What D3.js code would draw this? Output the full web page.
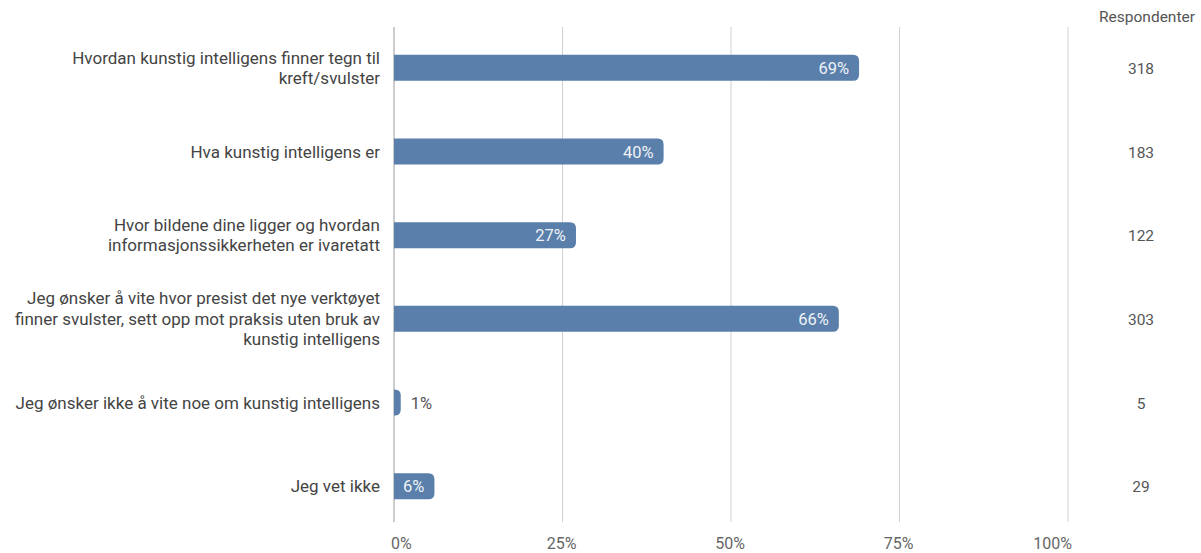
<!DOCTYPE html>
<html>
<head>
<meta charset="utf-8">
<script src="https://cdn.jsdelivr.net/npm/d3@7"></script>
<style>
  body { margin: 0; background: #fff; }
  text { font-family: Roboto, "Noto Sans", sans-serif; }
</style>
</head>
<body>
<div id="viz-container"></div>
<script>
// data
let categories = [
  "Hvordan kunstig intelligens finner tegn til\nkreft/svulster",
  "Hva kunstig intelligens er",
  "Hvor bildene dine ligger og hvordan\ninformasjonssikkerheten er ivaretatt",
  "Jeg ønsker å vite hvor presist det nye verktøyet\nfinner svulster, sett opp mot praksis uten bruk av\nkunstig intelligens",
  "Jeg ønsker ikke å vite noe om kunstig intelligens",
  "Jeg vet ikke"
];
let percents = [69, 40, 27, 66, 1, 6];
let respondents = [318, 183, 122, 303, 5, 29];
let ticks = [0, 25, 50, 75, 100];

//create canvas
let viz = d3.select("#viz-container")
    .append("svg")
    .attr("width", 1201)
    .attr("height", 553)
;

let x = d3.scaleLinear().domain([0, 100]).range([394, 1068]);
let y = d3.scalePoint().domain(categories).range([26, 528]).padding(0.5);
let barH = 26;

// gridlines
viz.selectAll(".grid").data(ticks).enter()
  .append("line")
    .attr("x1", d => x(d))
    .attr("x2", d => x(d))
    .attr("y1", 27)
    .attr("y2", 522)
    .attr("stroke", d => d == 0 ? "#9a9a9a" : "#d0d0d0")
    .attr("stroke-width", 1)
;

// tick labels (end ones kept inside the plot)
function tickAnchor(d){
  if(d == ticks[0]){
    return "start";
  }else if(d == ticks[ticks.length-1]){
    return "end";
  }
  return "middle";
}
function tickX(d){
  if(d == ticks[0]){
    return x(d) - 3;
  }else if(d == ticks[ticks.length-1]){
    return x(d) + 4;
  }
  return x(d) - 1;
}

viz.selectAll(".tick").data(ticks).enter()
  .append("text")
    .attr("x", tickX)
    .attr("y", 549)
    .attr("text-anchor", tickAnchor)
    .attr("fill", "#666")
    .style("font-size", "16px")
    .text(d => d + "%")
;

// bar with rounded right end
function barPath(i){
  let x0 = x(0), x1 = x(percents[i]);
  let yc = y(categories[i]);
  let y0 = yc - barH/2, y1 = yc + barH/2;
  let r = Math.min(6, (x1 - x0));
  return "M" + x0 + "," + y0 +
    " H" + (x1 - r) +
    " Q" + x1 + "," + y0 + " " + x1 + "," + (y0 + r) +
    " V" + (y1 - r) +
    " Q" + x1 + "," + y1 + " " + (x1 - r) + "," + y1 +
    " H" + x0 + " Z";
}

let rows = viz.selectAll(".row").data(categories).enter()
  .append("g")
    .attr("class", "row")
;

rows.append("path")
  .attr("d", (d, i) => barPath(i))
  .attr("fill", "#5a7fab")
;

// value labels: inside when bar is wide enough, else outside
rows.append("text")
  .attr("x", (d, i) => percents[i] >= 5 ? x(percents[i]) - 10 : x(percents[i]) + 10)
  .attr("y", d => y(d) + 6)
  .attr("text-anchor", (d, i) => percents[i] >= 5 ? "end" : "start")
  .attr("fill", (d, i) => percents[i] >= 5 ? "#eef2f7" : "#555")
  .style("font-size", "16.5px")
  .text((d, i) => percents[i] + "%")
;

// category labels
rows.each(function(d){
  let lines = d.split("\n");
  let t = d3.select(this).append("text")
    .attr("text-anchor", "end")
    .attr("fill", "#444")
    .style("font-size", "17px");
  lines.forEach((ln, k) => {
    t.append("tspan")
      .attr("x", 380)
      .attr("y", y(d) + 6 + (k - (lines.length - 1) / 2) * 20.5)
      .text(ln);
  });
});

// respondents column
viz.append("text")
  .attr("x", 1147)
  .attr("y", 22)
  .attr("text-anchor", "middle")
  .attr("fill", "#555")
  .style("font-size", "15.5px")
  .text("Respondenter")
;

rows.append("text")
  .attr("x", 1141)
  .attr("y", d => y(d) + 6)
  .attr("text-anchor", "middle")
  .attr("fill", "#555")
  .style("font-size", "15.5px")
  .text((d, i) => respondents[i])
;
</script>
</body>
</html>
